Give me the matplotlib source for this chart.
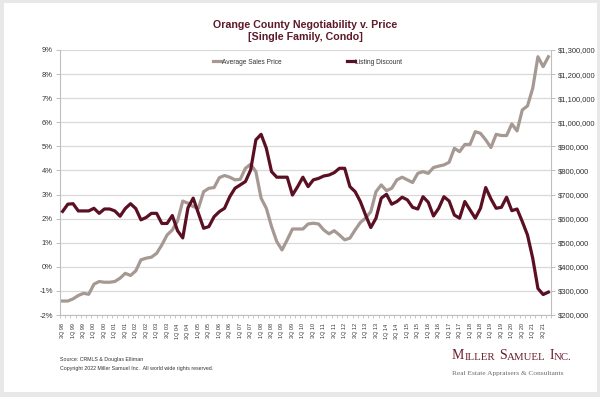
import matplotlib
matplotlib.use("Agg")
import matplotlib.pyplot as plt
from matplotlib.patches import Rectangle
from matplotlib.lines import Line2D
from matplotlib.ticker import FuncFormatter, FixedLocator
import numpy as np

plt.rcParams['font.family'] = ['Liberation Sans', 'DejaVu Sans']

# ---------------- data ----------------
first_year = 1998
first_q = 3
n_quarters = 94
quarter_labels = []
q, y = first_q, first_year
for _ in range(n_quarters):
    quarter_labels.append(f"{q}Q {y % 100:02d}")
    q += 1
    if q > 4:
        q, y = 1, y + 1

listing_discount = [
    2.30, 2.60, 2.62, 2.32, 2.32, 2.32, 2.43, 2.22, 2.40, 2.40,
    2.32, 2.10, 2.42, 2.62, 2.42, 1.95, 2.05, 2.22, 2.22, 1.80,
    1.80, 2.13, 1.50, 1.20, 2.45, 2.85, 2.22, 1.60, 1.67, 2.08,
    2.29, 2.43, 2.91, 3.26, 3.40, 3.54, 4.02, 5.27, 5.50, 4.92,
    3.95, 3.72, 3.72, 3.72, 2.98, 3.33, 3.72, 3.33, 3.61, 3.67,
    3.77, 3.81, 3.91, 4.09, 4.09, 3.33, 3.12, 2.71, 2.15, 1.63,
    2.02, 2.85, 3.01, 2.60, 2.71, 2.89, 2.78, 2.47, 2.40, 2.91,
    2.68, 2.11, 2.43, 2.91, 2.73, 2.15, 2.02, 2.71, 2.36, 2.02,
    2.43, 3.29, 2.82, 2.43, 2.47, 2.89, 2.33, 2.40, 1.88, 1.32,
    0.36, -0.90, -1.15, -1.05,
]

avg_sales_price = [
    258000, 258000, 267000, 281000, 290000, 286000, 328000, 339000, 336000, 336000,
    339000, 353000, 373000, 364000, 383000, 429000, 436000, 440000, 456000, 491000,
    532000, 553000, 590000, 673000, 664000, 650000, 643000, 712000, 726000, 729000,
    770000, 779000, 772000, 761000, 763000, 809000, 826000, 795000, 685000, 643000,
    567000, 505000, 470000, 512000, 557000, 557000, 557000, 578000, 581000, 578000,
    553000, 537000, 550000, 532000, 512000, 519000, 553000, 584000, 602000, 629000,
    712000, 740000, 716000, 726000, 761000, 772000, 761000, 750000, 788000, 795000,
    788000, 812000, 818000, 823000, 834000, 892000, 878000, 908000, 908000, 961000,
    954000, 927000, 895000, 950000, 945000, 945000, 993000, 964000, 1051000, 1068000,
    1141000, 1272000, 1231000, 1272000,
]

title_lines = ["Orange County Negotiability v. Price", "[Single Family, Condo]"]
series_names = ["Average Sales Price", "Listing Discount"]

# ---------------- style ----------------
maroon = '#5b0f22'
gray_line = '#a69893'
title_col = '#5e1a2b'
spine_col = '#bfbfbf'
grid_col = '#d9d9d9'
txt_col = '#333333'

W, H = 600, 397
fig = plt.figure(figsize=(W / 100, H / 100), dpi=100)
fig.patch.set_facecolor('#e8e8e8')
fig.add_artist(Rectangle((4 / W, 1 - 392 / H), (597 - 4) / W, (392 - 3) / H,
                         transform=fig.transFigure, facecolor='white',
                         edgecolor='none', zorder=0))

left, right, top, bottom = 60, 551, 50, 315
ax = fig.add_axes([left / W, 1 - bottom / H, (right - left) / W, (bottom - top) / H])
ax2 = ax.twinx()

x = np.arange(len(listing_discount))

ax2.plot(x, avg_sales_price, color=gray_line, lw=2.3, solid_joinstyle='round', zorder=3)
ax.plot(x, listing_discount, color=maroon, lw=2.3, solid_joinstyle='round', zorder=3)

ax.set_zorder(ax2.get_zorder() + 1)
ax.patch.set_visible(False)

ax.set_xlim(-0.5, n_quarters - 0.5)
ax.set_ylim(-2, 9)
ax.set_yticks(np.arange(-2, 10, 1))
ax.yaxis.set_major_formatter(FuncFormatter(lambda v, p: f"{v:.0f}%"))

ax2.set_ylim(200000, 1300000)
ax2.set_yticks(np.arange(200000, 1300001, 100000))
ax2.yaxis.set_major_formatter(FuncFormatter(lambda v, p: f"${v:,.0f}"))
ax2.yaxis.grid(True, color=grid_col, lw=0.9)
ax2.set_axisbelow(True)

# x ticks
ax.set_xticks(x[::2])
ax.set_xticklabels(quarter_labels[::2], rotation=90, fontsize=4, color=txt_col)
ax.xaxis.set_minor_locator(FixedLocator(np.arange(-0.5, n_quarters, 1)))
ax.tick_params(axis='x', which='major', length=0, pad=6)
ax.tick_params(axis='x', which='minor', length=2.5, color=spine_col, width=0.6)
ax2.tick_params(axis='x', which='both', length=0)

ax.tick_params(axis='y', length=3, color=spine_col, labelsize=5.5,
               labelcolor=txt_col, pad=2.2, width=0.7)
ax2.tick_params(axis='y', length=3, color=spine_col, labelsize=5.5,
                labelcolor=txt_col, pad=2.2, width=0.7)

for a in (ax, ax2):
    a.spines['top'].set_visible(False)
ax.spines['right'].set_visible(False)
ax.spines['left'].set_color(spine_col)
ax.spines['bottom'].set_color(spine_col)
ax2.spines['left'].set_visible(False)
ax2.spines['bottom'].set_visible(False)
ax2.spines['right'].set_color(spine_col)
for s in ('left', 'bottom'):
    ax.spines[s].set_linewidth(0.8)
ax2.spines['right'].set_linewidth(0.8)

# legend
handles = [Line2D([], [], color=gray_line, lw=2.3), Line2D([], [], color=maroon, lw=2.3)]
leg = fig.legend(handles, series_names, loc='center left',
                 bbox_to_anchor=(213 / W, 1 - 62 / H), ncol=2, frameon=False,
                 fontsize=4.8, handlelength=1.25, handletextpad=0.05,
                 columnspacing=9.8, borderpad=0, borderaxespad=0)
for t in leg.get_texts():
    t.set_color(txt_col)

# title
fig.text(305 / W, 1 - 25 / H, title_lines[0], ha='center', va='center',
         fontsize=7.7, fontweight='bold', color=title_col)
fig.text(305 / W, 1 - 36.5 / H, title_lines[1], ha='center', va='center',
         fontsize=7.7, fontweight='bold', color=title_col)

# footer
fig.text(60 / W, 1 - 360 / H, "Source: CRMLS & Douglas Elliman", ha='left', va='center',
         fontsize=3.8, color=txt_col)
fig.text(60 / W, 1 - 368.5 / H,
         "Copyright 2022 Miller Samuel Inc.  All world wide rights reserved.",
         ha='left', va='center', fontsize=3.8, color=txt_col)

# logo in small caps
logo_col = '#6b1e2e'
big, small = 10, 7.8
prev = fig.text(452 / W, 1 - 359 / H, 'M', fontsize=big, family='Liberation Serif',
                color=logo_col, va='baseline', ha='left')
parts = [('ILLER', small, 0.2), ('S', big, 2.6), ('AMUEL', small, 0.2),
         ('I', big, 2.6), ('NC.', small, 0.2)]
for txt, size, gap in parts:
    prev = ax.annotate(txt, xy=(1, 0), xycoords=prev, xytext=(gap, 0),
                       textcoords='offset points', fontsize=size,
                       family='Liberation Serif', color=logo_col,
                       va='bottom', ha='left', annotation_clip=False)
fig.text(452 / W, 1 - 375 / H, "Real Estate Appraisers & Consultants",
         fontsize=5.3, family='Liberation Serif', color='#6d6d6d',
         va='baseline', ha='left')

fig.savefig('out.png', dpi=100, facecolor=fig.get_facecolor())
